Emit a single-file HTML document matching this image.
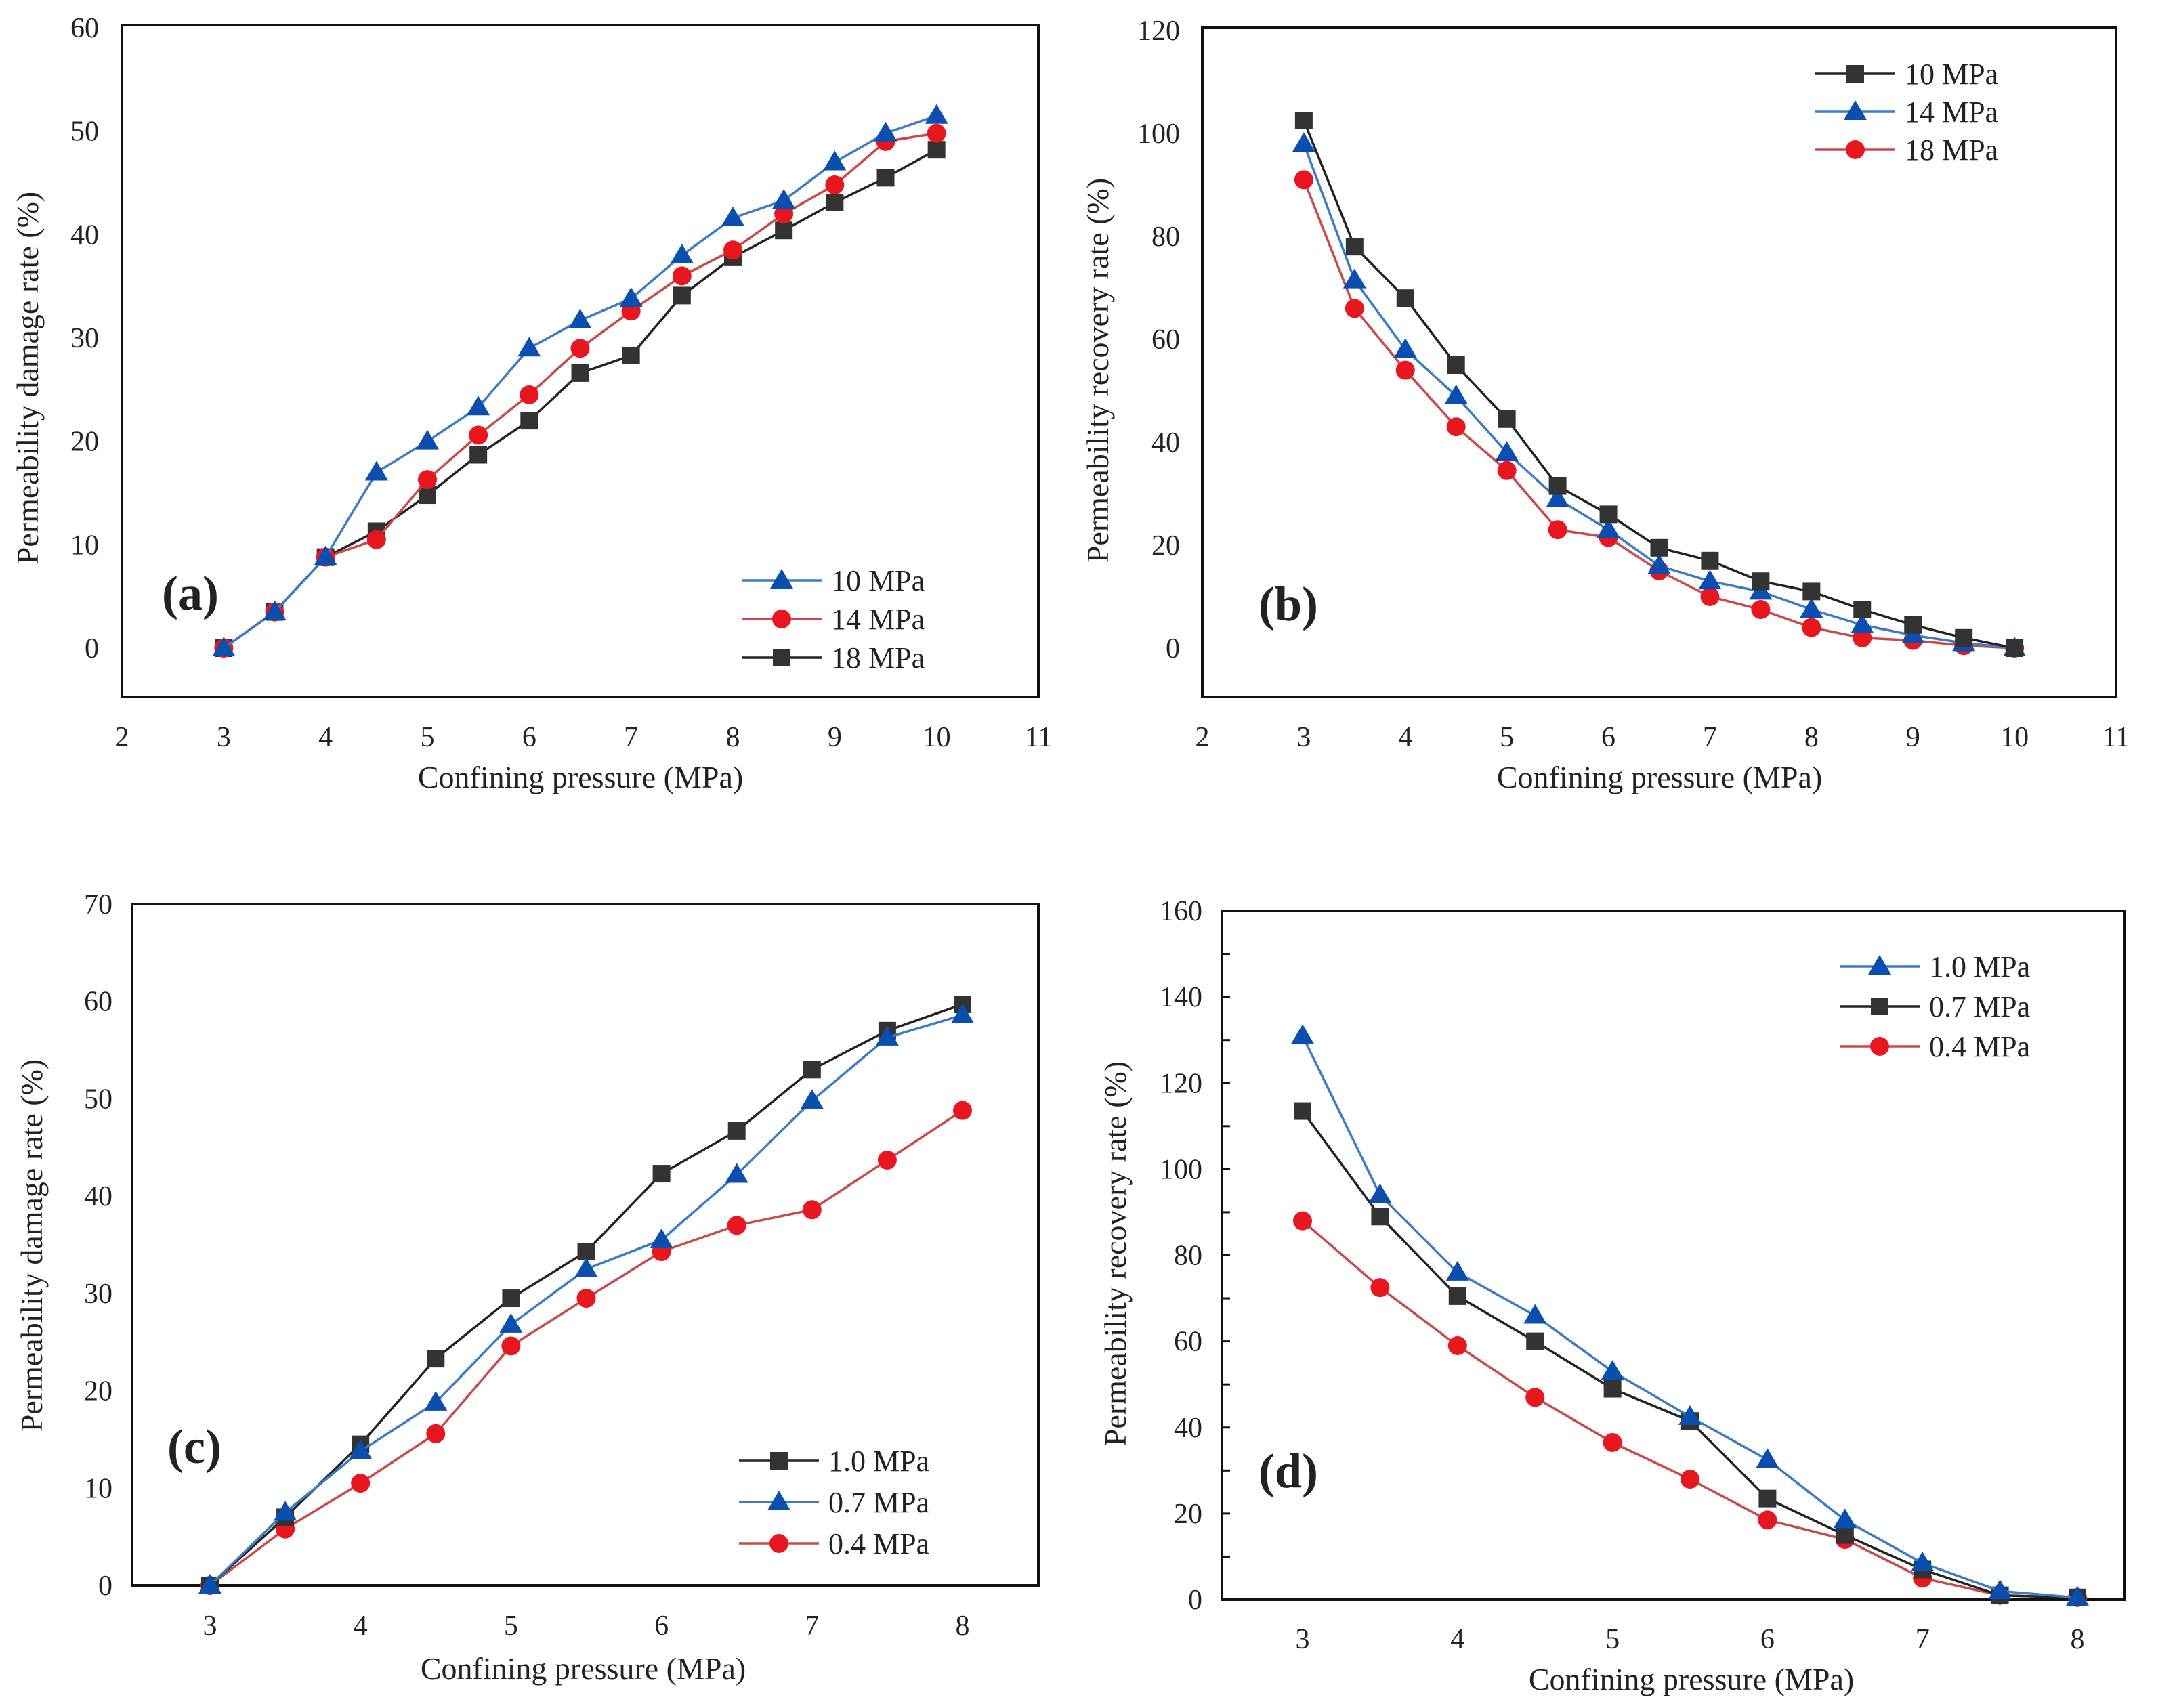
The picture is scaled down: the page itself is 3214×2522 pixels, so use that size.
<!DOCTYPE html>
<html><head><meta charset="utf-8"><style>
html,body{margin:0;padding:0;background:#fff}
svg{display:block}
text{font-family:"Liberation Serif",serif;fill:#222}
</style></head><body>
<svg id="fig" width="3214" height="2522" viewBox="0 0 3214 2522" xmlns="http://www.w3.org/2000/svg"></svg>
<script>
// ---- data ----
const xA = [3,3.5,4,4.5,5,5.5,6,6.5,7,7.5,8,8.5,9,9.5,10];
const a10 = [0,3.5,8.8,17,20,23.3,29,31.7,33.8,38,41.6,43.3,47,49.8,51.5];
const a14 = [0,3.5,8.8,10.5,16.3,20.6,24.5,29,32.6,36,38.5,42,44.8,49,49.8];
const a18 = [0,3.5,8.8,11.3,14.8,18.7,22,26.6,28.3,34.1,37.8,40.4,43.1,45.5,48.2];
const b10 = [102.5,78,68,55,44.5,31.5,26,19.5,17,13,11,7.5,4.5,2,0];
const b14 = [98,71.5,58,49,38,29,23,16,13,11,7.5,4.5,2.5,1,0];
const b18 = [91,66,54,43,34.5,23,21.5,15,10,7.5,4,2,1.5,0.5,0];
const xC = [3,3.5,4,4.5,5,5.5,6,6.5,7,7.5,8];
const c10 = [0,7,14.5,23.3,29.5,34.3,42.3,46.7,53,57,59.7];
const c07 = [0,7.5,13.8,18.8,26.8,32.5,35.5,42.2,49.8,56.3,58.6];
const c04 = [0,5.8,10.5,15.6,24.6,29.5,34.3,37,38.6,43.7,48.8];
const d10 = [131,94,76,66,53,42.5,32.5,18.5,8.5,2,0.5];
const d07 = [113.5,89,70.5,60,49,41.5,23.5,15,7,1,0.5];
const d04 = [88,72.5,59,47,36.5,28,18.5,14,5,1,0.5];
const ticksXAB = [2,3,4,5,6,7,8,9,10,11];
const ticksYA = [0,10,20,30,40,50,60];
const ticksYB = [0,20,40,60,80,100,120];
const ticksXCD = [3,4,5,6,7,8];
const ticksYC = [0,10,20,30,40,50,60,70];
const ticksYD = [0,20,40,60,80,100,120,140,160];

const NS="http://www.w3.org/2000/svg";
const svg=document.getElementById('fig');
function mk(tag,attrs,parent){const e=document.createElementNS(NS,tag);for(const k in attrs)e.setAttribute(k,attrs[k]);(parent||svg).appendChild(e);return e;}
const COL={blue:{line:'#3b7cc4',fill:'#0a4fb0',m:'tri'},red:{line:'#c84a4a',fill:'#e8161f',m:'circ'},black:{line:'#222',fill:'#333',m:'sq'}};

function marker(g,type,cx,cy,fill){
  let e;
  if(type==='tri'){e=mk('polygon',{points:`${cx},${cy-17} ${cx-17},${cy+12} ${cx+17},${cy+12}`,fill:fill},g);}
  else if(type==='circ'){e=mk('circle',{cx:cx,cy:cy,r:14,fill:fill},g);}
  else {e=mk('rect',{x:cx-13,y:cy-13,width:26,height:26,fill:fill},g);}
  return e;
}

function panel(p){
  const g=mk('g',{});
  
  
  const sx=v=>p.x0px+(v-p.x0v)*(p.x1px-p.x0px)/(p.x1v-p.x0v);
  const sy=v=>p.y0px+(v-p.y0v)*(p.y1px-p.y0px)/(p.y1v-p.y0v);
  const fr=mk('rect',{x:p.bx,y:p.by,width:p.bw,height:p.bh,fill:'none',stroke:'#111','stroke-width':4},g);
  
  
  p.ticksX.forEach(t=>{
    const e=mk('text',{x:sx(t),y:p.xLabY,'font-size':42,'text-anchor':'middle'},g);e.textContent=t;
    
    
  });
  p.ticksY.forEach(t=>{
    const e=mk('text',{x:p.yLabX,y:sy(t)+14,'font-size':42,'text-anchor':'end'},g);e.textContent=t;
    
    
  });
  if(p.minor){
    for(let v=p.ticksY[0];v<=p.ticksY[p.ticksY.length-1];v+=p.minor){
      mk('line',{x1:p.bx,x2:p.bx+12,y1:sy(v),y2:sy(v),stroke:'#111','stroke-width':3},g);
    }
  }
  const xt=mk('text',{x:p.xtX,y:p.xtY,'font-size':46,'text-anchor':'middle'},g);xt.textContent='Confining pressure (MPa)';
  
  
  const yt=mk('text',{x:0,y:0,'font-size':46,'text-anchor':'middle',transform:`translate(${p.ytX},${p.ytY}) rotate(-90)`},g);yt.textContent=p.ytitle;
  
  
  const lb=mk('text',{x:p.lblX,y:p.lblY,'font-size':72,'font-weight':'bold','text-anchor':'middle'},g);
  lb.textContent='('+p.id+')';
  
  
  // series: draw back to front
  p.series.forEach(s=>{
    const c=COL[s.color];
    const pts=p.xs.map((x,i)=>sx(x)+','+sy(s.vals[i])).join(' ');
    const pl=mk('polyline',{points:pts,fill:'none',stroke:c.line,'stroke-width':3.5},g);
    
    
    p.xs.forEach((x,i)=>{
      const m=marker(g,c.m,sx(x),sy(s.vals[i]),c.fill);
      
      
    });
  });
  p.legend.forEach((s,i)=>{
    const c=COL[s.color];const y=p.legY+i*p.legDy;
    const lg=mk('g',{},g);
    
    
    mk('line',{x1:p.legX,x2:p.legX+118,y1:y,y2:y,stroke:c.line,'stroke-width':3.5},lg);
    marker(lg,c.m,p.legX+59,y,c.fill);
    const t=mk('text',{x:p.legX+132,y:y+15,'font-size':44},lg);t.textContent=s.name;
  });
}

panel({id:'a',bx:180,by:37,bw:1353,bh:992,x0v:2,x1v:11,x0px:180,x1px:1533,y0v:0,y1v:60,y0px:957,y1px:41,
  xs:xA,ticksX:ticksXAB,ticksY:ticksYA,xLabY:1102,yLabX:146,xtX:857,xtY:1163,ytX:56,ytY:558,ytitle:'Permeability damage rate (%)',
  lblX:281,lblY:900,
  series:[{name:'18 MPa',color:'black',vals:a18},{name:'14 MPa',color:'red',vals:a14},{name:'10 MPa',color:'blue',vals:a10}],
  legend:[{name:'10 MPa',color:'blue'},{name:'14 MPa',color:'red'},{name:'18 MPa',color:'black'}],legX:1095,legY:857,legDy:57});
panel({id:'b',bx:1775,by:41,bw:1349,bh:988,x0v:2,x1v:11,x0px:1775,x1px:3124,y0v:0,y1v:120,y0px:957,y1px:45,
  xs:xA,ticksX:ticksXAB,ticksY:ticksYB,xLabY:1102,yLabX:1742,xtX:2450,xtY:1163,ytX:1636,ytY:547,ytitle:'Permeability recovery rate (%)',
  lblX:1902,lblY:916,
  series:[{name:'18 MPa',color:'red',vals:b18},{name:'14 MPa',color:'blue',vals:b14},{name:'10 MPa',color:'black',vals:b10}],
  legend:[{name:'10 MPa',color:'black'},{name:'14 MPa',color:'blue'},{name:'18 MPa',color:'red'}],legX:2680,legY:109,legDy:56});
panel({id:'c',bx:195,by:1335,bw:1338,bh:1006,x0v:3,x1v:8,x0px:310,x1px:1421,y0v:0,y1v:70,y0px:2341,y1px:1335,
  xs:xC,ticksX:ticksXCD,ticksY:ticksYC,xLabY:2414,yLabX:166,xtX:861,xtY:2479,ytX:62,ytY:1839,ytitle:'Permeability damage rate (%)',
  lblX:287,lblY:2160,
  series:[{name:'0.4 MPa',color:'red',vals:c04},{name:'1.0 MPa',color:'black',vals:c10},{name:'0.7 MPa',color:'blue',vals:c07}],
  legend:[{name:'1.0 MPa',color:'black'},{name:'0.7 MPa',color:'blue'},{name:'0.4 MPa',color:'red'}],legX:1091,legY:2157,legDy:61});
panel({id:'d',bx:1804,by:1345,bw:1333,bh:1017,x0v:3,x1v:8,x0px:1923,x1px:3067,y0v:0,y1v:160,y0px:2362,y1px:1345,
  xs:xC,ticksX:ticksXCD,ticksY:ticksYD,xLabY:2434,yLabX:1775,minor:10,xtX:2497,xtY:2495,ytX:1662,ytY:1851,ytitle:'Permeability recovery rate (%)',
  lblX:1902,lblY:2196,
  series:[{name:'0.4 MPa',color:'red',vals:d04},{name:'0.7 MPa',color:'black',vals:d07},{name:'1.0 MPa',color:'blue',vals:d10}],
  legend:[{name:'1.0 MPa',color:'blue'},{name:'0.7 MPa',color:'black'},{name:'0.4 MPa',color:'red'}],legX:2716,legY:1427,legDy:59});
</script>
</body></html>
